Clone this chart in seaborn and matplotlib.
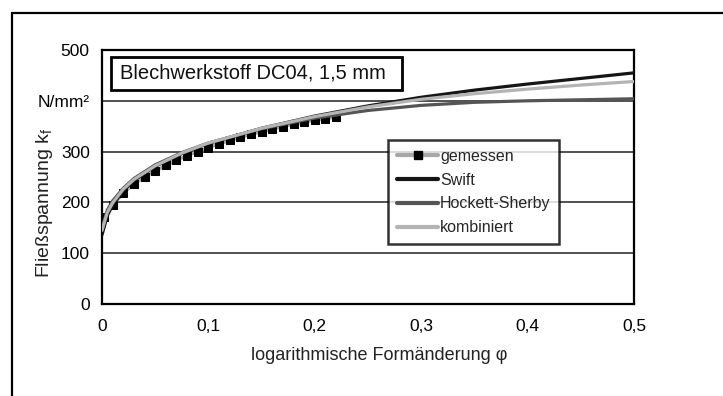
import numpy as np
import pandas as pd
import matplotlib
matplotlib.use("Agg")
import matplotlib.pyplot as plt
from matplotlib.lines import Line2D
from matplotlib.patches import Rectangle
import seaborn as sns

# Strain values (logarithmic strain phi) at which the flow curves are given
phi_fit = [0.0, 0.005, 0.01, 0.02, 0.03, 0.05, 0.075, 0.1, 0.15, 0.2,
           0.25, 0.3, 0.35, 0.4, 0.45, 0.5]
swift = [136, 174, 195, 223, 243, 271, 296, 316, 346, 370,
         390, 407, 421, 433, 444, 455]
hockett_sherby = [150, 185, 203, 228, 247, 274, 298, 317, 345, 366,
                  381, 391, 397, 400, 402, 404]
kombiniert = [145, 180, 199, 226, 245, 272, 297, 317, 346, 369,
              388, 403, 414, 423, 431, 438]

# Measured flow stress from the tensile test
phi_mess = [0.002, 0.01, 0.02, 0.03, 0.04, 0.05, 0.06, 0.07, 0.08, 0.09,
            0.10, 0.11, 0.12, 0.13, 0.14, 0.15, 0.16, 0.17, 0.18, 0.19,
            0.20, 0.21, 0.22]
gemessen = [172, 194, 218, 236, 250, 262, 273, 283, 292, 300,
            308, 315, 322, 328, 334, 339, 344, 349, 354, 358,
            362, 365, 368]

x_ticks = [0, 0.1, 0.2, 0.3, 0.4, 0.5]
x_ticklabels = ["0", "0,1", "0,2", "0,3", "0,4", "0,5"]
y_ticks = [0, 100, 200, 300, 400, 500]
y_ticklabels = ["0", "100", "200", "300", "N/mm²", "500"]

sns.set_style("white")
plt.rcParams["font.family"] = ["Liberation Sans", "DejaVu Sans"]
plt.rcParams["mathtext.fontset"] = "custom"
plt.rcParams["mathtext.rm"] = "Liberation Sans"
plt.rcParams["mathtext.it"] = "Liberation Sans"

W, H = 723, 396
fig = plt.figure(figsize=(W / 100, H / 100), dpi=100)
ax = fig.add_axes([102 / W, 1 - 304 / H, (634 - 102) / W, (304 - 50) / H])

df_fit = pd.DataFrame({"phi": phi_fit, "Swift": swift,
                       "Hockett-Sherby": hockett_sherby,
                       "kombiniert": kombiniert})
df_mess = pd.DataFrame({"phi": phi_mess, "kf": gemessen})

lw = 2.3
sns.lineplot(data=df_mess, x="phi", y="kf", ax=ax, color="#a8a8a8", lw=lw,
             marker="s", markersize=6, markerfacecolor="black",
             markeredgecolor="black", zorder=3)
sns.lineplot(data=df_fit, x="phi", y="Swift", ax=ax, color="#151515",
             lw=lw, zorder=4)
sns.lineplot(data=df_fit, x="phi", y="Hockett-Sherby", ax=ax,
             color="#555555", lw=lw, zorder=5)
sns.lineplot(data=df_fit, x="phi", y="kombiniert", ax=ax,
             color="#b4b4b4", lw=lw, zorder=6)

ax.set_xlim(0, 0.5)
ax.set_ylim(0, 500)
ax.set_xticks(x_ticks)
ax.set_xticklabels(x_ticklabels, fontsize=12.5, color="#1a1a1a")
ax.set_yticks(y_ticks)
ax.set_yticklabels(y_ticklabels, fontsize=12.5, color="#1a1a1a")
ax.tick_params(axis="both", which="major", colors="black",
               direction="out", length=3.8, width=1.6)
ax.tick_params(axis="x", pad=7)
ax.tick_params(axis="y", pad=5)
ax.set_xlabel("")
ax.set_ylabel("")

for y in [100, 200, 300, 400]:
    ax.axhline(y, color="#222222", lw=1.1, zorder=1)
for s in ax.spines.values():
    s.set_visible(True)
    s.set_color("black")
    s.set_linewidth(1.6)

# Axis titles
fig.text(379 / W, 1 - 356 / H, "logarithmische Formänderung φ",
         ha="center", va="center", fontsize=13, color="#222222")
fig.text(45 / W, 1 - 203 / H, "Fließspannung k$_\\mathregular{f}$",
         ha="center", va="center", rotation=90, fontsize=14,
         color="#222222")

# Material label box
ax.add_patch(Rectangle(((111 - 102) / 532, (304 - 90) / 254),
                       (402 - 111) / 532, 33 / 254, transform=ax.transAxes,
                       facecolor="white", edgecolor="black", lw=2.0,
                       zorder=8))
ax.text((120 - 102) / 532, (304 - 73.5) / 254, "Blechwerkstoff DC04, 1,5 mm",
        transform=ax.transAxes, ha="left", va="center", fontsize=14.5,
        color="#111111", zorder=9)

# Legend
handles = [
    Line2D([], [], color="#a8a8a8", lw=3, marker="s", markersize=6,
           markerfacecolor="black", markeredgecolor="black"),
    Line2D([], [], color="#151515", lw=3),
    Line2D([], [], color="#555555", lw=3),
    Line2D([], [], color="#b4b4b4", lw=3),
]
labels = ["gemessen", "Swift", "Hockett-Sherby", "kombiniert"]
leg = ax.legend(handles, labels, loc="upper left",
                bbox_to_anchor=(388 / W, 1 - 140 / H),
                bbox_transform=fig.transFigure, frameon=True, fancybox=False,
                numpoints=1, handlelength=2.6, handletextpad=0.1,
                labelspacing=0.55, borderpad=0.55, borderaxespad=0,
                prop={"size": 11.5})
leg.get_frame().set_edgecolor("black")
leg.get_frame().set_linewidth(1.8)
leg.set_zorder(10)

# Outer frame of the figure
fig.add_artist(Line2D([11.5 / W, 11.5 / W], [0, 1 - 13 / H], color="black",
                      lw=1.6, transform=fig.transFigure))
fig.add_artist(Line2D([11.5 / W, 1], [1 - 13 / H, 1 - 13 / H], color="black",
                      lw=1.6, transform=fig.transFigure))

fig.savefig("out.png", dpi=100, facecolor="white")
